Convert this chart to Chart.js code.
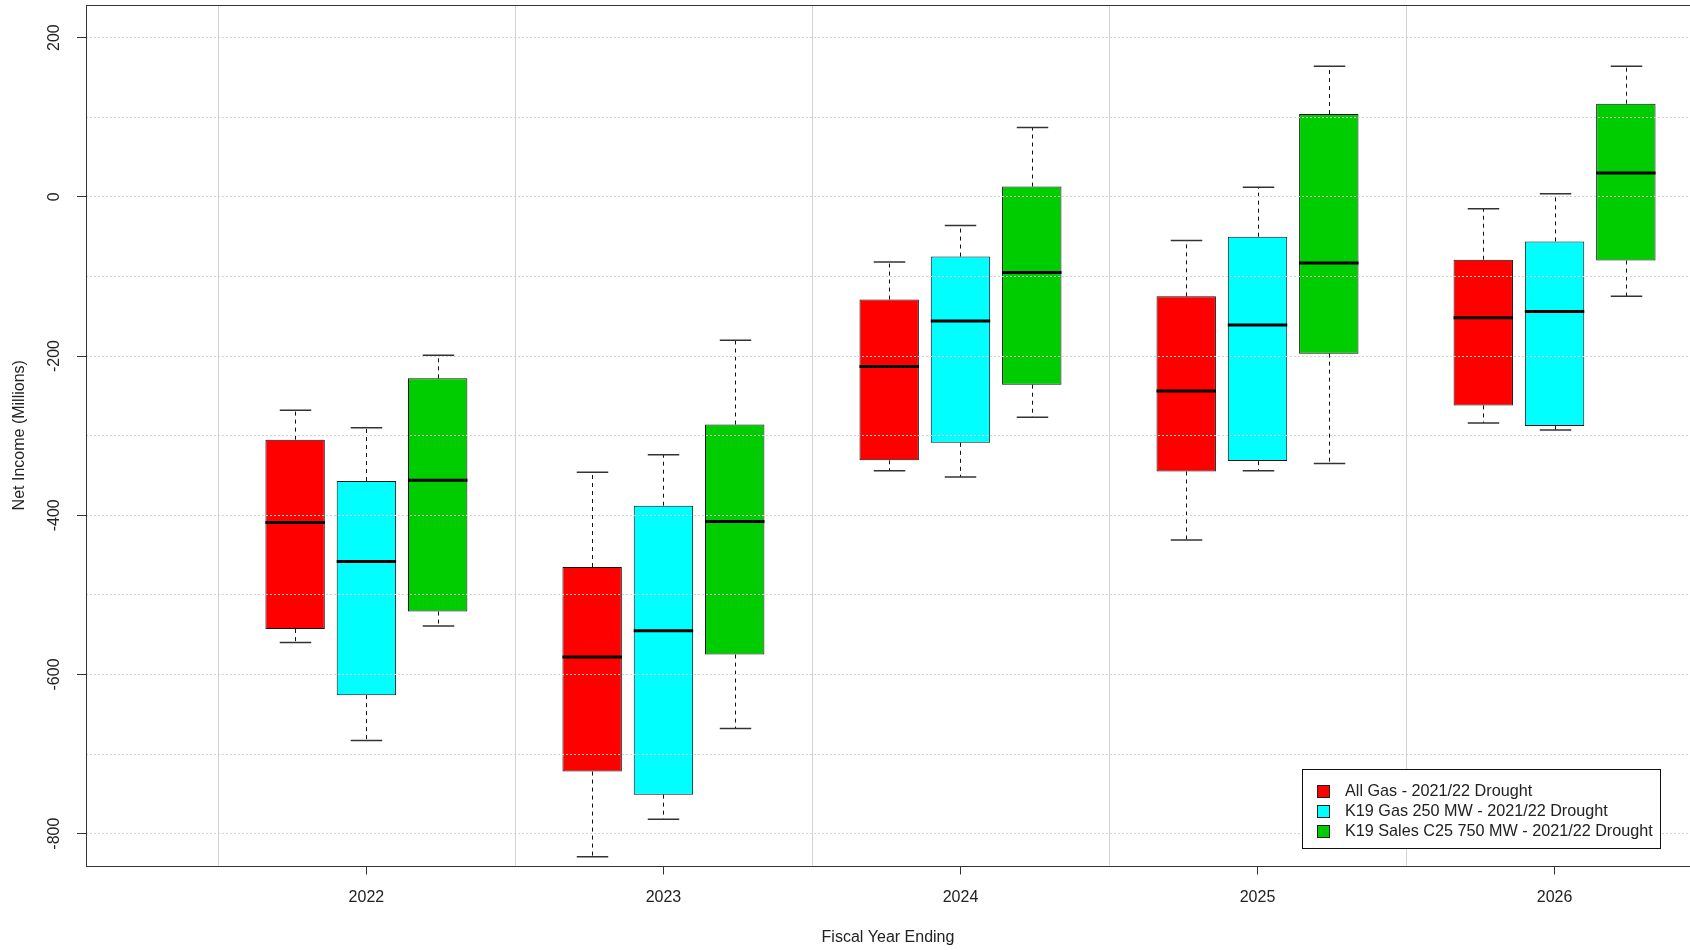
<!DOCTYPE html>
<html>
<head>
<meta charset="utf-8">
<title>Net Income by Fiscal Year</title>
<script src="https://cdn.jsdelivr.net/npm/chart.js@4.4.1/dist/chart.umd.min.js"></script>
<style>
  html, body { margin: 0; padding: 0; background: #ffffff; }
  #wrap { width: 1690px; height: 950px; }
</style>
</head>
<body>
<div id="wrap"><canvas id="chart" width="1690" height="950"></canvas></div>
<script>
// Categories and series
const fiscalYears = [2022, 2023, 2024, 2025, 2026];
const seriesLabels = [
  'All Gas - 2021/22 Drought',
  'K19 Gas 250 MW - 2021/22 Drought',
  'K19 Sales C25 750 MW - 2021/22 Drought'
];
const seriesColors = ['#FF0000', '#00FFFF', '#00CD00'];

// Five-number summaries (net income, millions)
const allGasLow    = [-560, -829, -344, -431, -284];
const allGasQ1     = [-543, -722, -331, -345, -262];
const allGasMedian = [-409, -578, -213, -244, -152];
const allGasQ3     = [-305, -465, -129, -125, -79];
const allGasHigh   = [-268, -346, -82, -55, -15];

const gas250Low    = [-683, -782, -352, -344, -293];
const gas250Q1     = [-626, -751, -309, -332, -288];
const gas250Median = [-458, -545, -156, -161, -144];
const gas250Q3     = [-357, -388, -75, -50, -56];
const gas250High   = [-290, -324, -36, 12, 4];

const sales750Low    = [-539, -668, -277, -335, -125];
const sales750Q1     = [-521, -575, -236, -197, -80];
const sales750Median = [-356, -408, -95, -83, 30];
const sales750Q3     = [-228, -286, 13, 104, 117];
const sales750High   = [-199, -180, 87, 164, 164];

// Axis ticks
const yTickValues = [-800, -600, -400, -200, 0, 200];
const yGridValues = [-800, -700, -600, -500, -400, -300, -200, -100, 0, 100, 200];

const seriesStats = [
  { low: allGasLow,   q1: allGasQ1,   median: allGasMedian,   q3: allGasQ3,   high: allGasHigh },
  { low: gas250Low,   q1: gas250Q1,   median: gas250Median,   q3: gas250Q3,   high: gas250High },
  { low: sales750Low, q1: sales750Q1, median: sales750Median, q3: sales750Q3, high: sales750High }
];

const FONT = '"Liberation Sans", Arial, Helvetica, sans-serif';
const TEXT = '#222222';

const datasets = seriesStats.map((st, si) => ({
  label: seriesLabels[si],
  data: fiscalYears.map((yr, i) => ({ x: yr, y: [st.q1[i], st.q3[i]] })),
  backgroundColor: seriesColors[si],
  borderColor: '#111111',
  borderWidth: 1,
  borderSkipped: false,
  categoryPercentage: 0.72,
  barPercentage: 0.8333
}));

function strokeLine(ctx, x1, y1, x2, y2) {
  ctx.beginPath();
  ctx.moveTo(x1, y1);
  ctx.lineTo(x2, y2);
  ctx.stroke();
}

// Light vertical separators between fiscal years
const separatorPlugin = {
  id: 'yearSeparators',
  beforeDatasetsDraw(chart) {
    const { ctx, chartArea, scales } = chart;
    ctx.save();
    ctx.strokeStyle = '#d3d3d3';
    ctx.lineWidth = 1;
    fiscalYears.forEach(yr => {
      const px = Math.round(scales.x.getPixelForValue(yr - 0.5)) + 0.5;
      if (px > chartArea.left && px < chartArea.right) {
        strokeLine(ctx, px, chartArea.top, px, chartArea.bottom);
      }
    });
    ctx.restore();
  }
};

// Whiskers, caps and medians on top of each box
const whiskerPlugin = {
  id: 'boxWhiskers',
  afterDatasetsDraw(chart) {
    const ctx = chart.ctx;
    const yS = chart.scales.y;
    ctx.save();
    chart.data.datasets.forEach((ds, di) => {
      const meta = chart.getDatasetMeta(di);
      const st = seriesStats[di];
      meta.data.forEach((bar, i) => {
        const x = Math.round(bar.x) + 0.5;
        const w = bar.width;
        const pLow = yS.getPixelForValue(st.low[i]);
        const pQ1 = yS.getPixelForValue(st.q1[i]);
        const pMed = yS.getPixelForValue(st.median[i]);
        const pQ3 = yS.getPixelForValue(st.q3[i]);
        const pHigh = yS.getPixelForValue(st.high[i]);
        const cap = w * 0.265;

        ctx.strokeStyle = '#111111';
        ctx.lineWidth = 1;
        ctx.setLineDash([4, 4]);
        strokeLine(ctx, x, pQ3, x, pHigh);
        strokeLine(ctx, x, pQ1, x, pLow);
        ctx.setLineDash([]);

        ctx.strokeStyle = '#333333';
        ctx.lineWidth = 1.5;
        strokeLine(ctx, x - cap, pHigh, x + cap, pHigh);
        strokeLine(ctx, x - cap, pLow, x + cap, pLow);

        ctx.strokeStyle = '#000000';
        ctx.lineWidth = 3;
        strokeLine(ctx, bar.x - w / 2, pMed, bar.x + w / 2, pMed);
      });
    });
    ctx.restore();
  }
};

// Plot frame, rotated y tick labels and the legend
const framePlugin = {
  id: 'frameAndLegend',
  afterDraw(chart) {
    const { ctx, chartArea, scales } = chart;
    ctx.save();

    // frame
    ctx.strokeStyle = '#333333';
    ctx.lineWidth = 1;
    ctx.strokeRect(Math.round(chartArea.left) + 0.5, Math.round(chartArea.top) + 0.5,
                   Math.round(chartArea.right - chartArea.left), Math.round(chartArea.bottom - chartArea.top));

    // y tick labels, reading upward
    ctx.fillStyle = TEXT;
    ctx.font = '16px ' + FONT;
    ctx.textAlign = 'center';
    ctx.textBaseline = 'middle';
    yTickValues.forEach(v => {
      const py = scales.y.getPixelForValue(v);
      ctx.save();
      ctx.translate(chartArea.left - 31, py);
      ctx.rotate(-Math.PI / 2);
      ctx.fillText(String(v), 0, 0);
      ctx.restore();
    });

    // legend
    const lx = 1302.5, ly = 769.5, lw = 358, lh = 79;
    ctx.fillStyle = '#ffffff';
    ctx.fillRect(lx, ly, lw, lh);
    ctx.strokeStyle = '#111111';
    ctx.lineWidth = 1;
    ctx.strokeRect(lx, ly, lw, lh);
    ctx.textAlign = 'left';
    ctx.font = '16.2px ' + FONT;
    chart.data.datasets.forEach((ds, i) => {
      const cy = ly + 21.5 + i * 20;
      ctx.fillStyle = ds.backgroundColor;
      ctx.fillRect(lx + 15, Math.round(cy - 6.5) + 0.5, 12, 12);
      ctx.strokeStyle = '#222222';
      ctx.strokeRect(lx + 15, Math.round(cy - 6.5) + 0.5, 12, 12);
      ctx.fillStyle = TEXT;
      ctx.fillText(ds.label, lx + 42.5, cy + 1);
    });
    ctx.restore();
  }
};

new Chart(document.getElementById('chart'), {
  type: 'bar',
  data: { datasets },
  plugins: [separatorPlugin, whiskerPlugin, framePlugin],
  options: {
    responsive: false,
    animation: false,
    layout: { padding: { top: 5, right: 0, bottom: 0, left: 0 } },
    plugins: { legend: { display: false }, tooltip: { enabled: false } },
    scales: {
      x: {
        type: 'linear',
        min: 2021.056,
        max: 2026.456,
        offset: false,
        afterBuildTicks: s => { s.ticks = fiscalYears.map(v => ({ value: v })); },
        afterFit: s => { s.height = 84.5; },
        grid: { offset: false, drawOnChartArea: false, drawTicks: true, tickLength: 9, tickColor: '#333333', tickWidth: 1 },
        border: { display: false },
        ticks: {
          color: TEXT, font: { family: FONT, size: 16 }, padding: 13,
          maxRotation: 0, minRotation: 0, autoSkip: false,
          callback: v => String(v)
        },
        title: {
          display: true, text: 'Fiscal Year Ending', color: TEXT,
          font: { family: FONT, size: 16 }, padding: { top: 0, bottom: 3 }
        }
      },
      y: {
        type: 'linear',
        min: -840,
        max: 241,
        afterBuildTicks: s => { s.ticks = yGridValues.map(v => ({ value: v })); },
        afterFit: s => { s.width = 86; },
        grid: {
          z: 1, color: '#d3d3d3', lineWidth: 1, drawTicks: true, tickLength: 9, tickWidth: 1,
          tickColor: c => (yTickValues.includes(c.tick && c.tick.value) ? '#333333' : 'rgba(0,0,0,0)')
        },
        border: { display: false, dash: [2, 2] },
        ticks: { display: false },
        title: {
          display: true, text: 'Net Income (Millions)', color: TEXT,
          font: { family: FONT, size: 16 }, padding: { top: 9.5, bottom: 0 }
        }
      }
    }
  }
});
</script>
</body>
</html>
